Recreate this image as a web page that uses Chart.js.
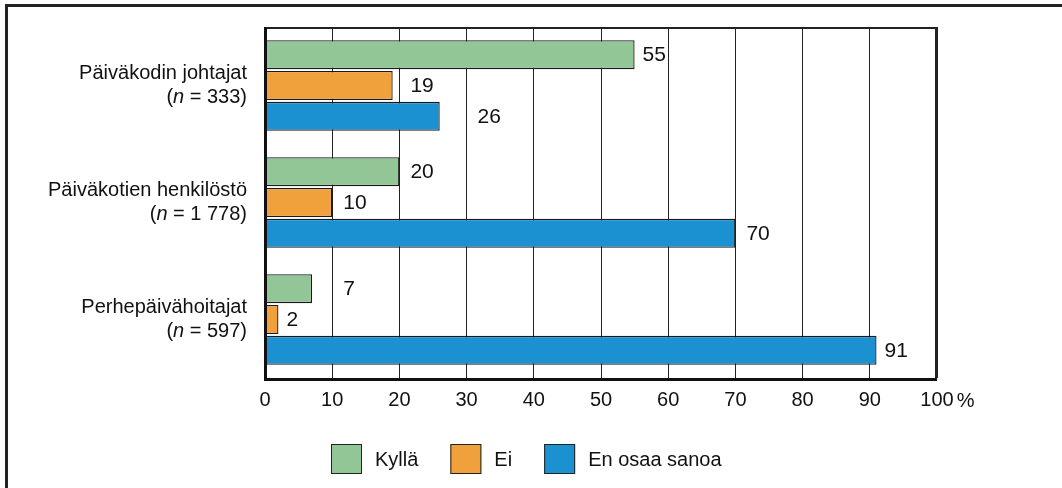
<!DOCTYPE html>
<html>
<head>
<meta charset="utf-8">
<script src="https://cdn.jsdelivr.net/npm/chart.js@4"></script>
<style>
  html, body { margin: 0; padding: 0; background: #fff; }
  #wrap { width: 1062px; height: 488px; position: relative; }
</style>
</head>
<body>
<div id="wrap"><canvas id="chart"></canvas></div>
<script>
const categories = ['Päiväkodin johtajat', 'Päiväkotien henkilöstö', 'Perhepäivähoitajat'];
const sampleSizes = ['333', '1 778', '597'];
const seriesNames = ['Kyllä', 'Ei', 'En osaa sanoa'];
const kylla = [55, 20, 7];
const ei = [19, 10, 2];
const enOsaa = [26, 70, 91];
const tickValues = [0, 10, 20, 30, 40, 50, 60, 70, 80, 90, 100];
const unitLabel = '%';

const colors = ['#93c697', '#f0a13b', '#1b91d1'];
const FONT = '"Liberation Sans", Arial, sans-serif';
const INK = '#111';

// piirretään kehykset, selitteet ja arvot itse
const extras = {
  id: 'extras',
  beforeDraw(chart) {
    const ctx = chart.ctx;
    ctx.save();
    ctx.fillStyle = '#fff';
    ctx.fillRect(0, 0, chart.width, chart.height);
    ctx.strokeStyle = '#222';
    ctx.lineWidth = 3;
    ctx.beginPath();
    ctx.moveTo(6.5, chart.height);
    ctx.lineTo(6.5, 5.5);
    ctx.lineTo(chart.width, 5.5);
    ctx.stroke();
    ctx.restore();
  },
  afterDatasetsDraw(chart) {
    const ctx = chart.ctx;
    const xs = chart.scales.x;
    const grid = tickValues.map(v => xs.getPixelForValue(v));
    ctx.save();
    ctx.font = '21px ' + FONT;
    ctx.fillStyle = INK;
    ctx.textBaseline = 'middle';
    ctx.textAlign = 'left';
    chart.data.datasets.forEach((ds, i) => {
      chart.getDatasetMeta(i).data.forEach((bar, j) => {
        const txt = String(ds.data[j]);
        const w = ctx.measureText(txt).width;
        let x = bar.x + 8;
        const hit = grid.find(g => g > x - 9 && g < x + w + 2);
        if (hit !== undefined) x = hit + 11;
        ctx.fillText(txt, x, bar.y + 1);
      });
    });
    ctx.restore();
  },
  afterDraw(chart) {
    const ctx = chart.ctx;
    const a = chart.chartArea;
    const xs = chart.scales.x;
    const ys = chart.scales.y;
    ctx.save();
    // kuvaajan reunat
    ctx.strokeStyle = '#222';
    ctx.lineWidth = 2;
    ctx.beginPath();
    ctx.moveTo(a.left, a.top + 1);
    ctx.lineTo(a.right - 1, a.top + 1);
    ctx.lineTo(a.right - 1, a.bottom);
    ctx.stroke();
    ctx.strokeStyle = '#111';
    ctx.lineWidth = 3;
    ctx.beginPath();
    ctx.moveTo(a.left + 0.5, a.top);
    ctx.lineTo(a.left + 0.5, a.bottom + 1.5);
    ctx.lineTo(a.right, a.bottom + 1.5);
    ctx.stroke();

    // luokkien nimet, n kursiivilla
    ctx.fillStyle = INK;
    ctx.textBaseline = 'middle';
    const normal = '20px ' + FONT;
    const italic = 'italic 20px ' + FONT;
    categories.forEach((name, i) => {
      const cy = ys.getPixelForValue(i);
      const right = a.left - 18;
      ctx.font = normal;
      ctx.textAlign = 'right';
      ctx.fillText(name, right, cy - 12);
      const parts = [['(', normal], ['n', italic], [' = ' + sampleSizes[i] + ')', normal]];
      let total = 0;
      parts.forEach(p => { ctx.font = p[1]; total += ctx.measureText(p[0]).width; });
      let x = right - total;
      ctx.textAlign = 'left';
      parts.forEach(p => {
        ctx.font = p[1];
        ctx.fillText(p[0], x, cy + 12);
        x += ctx.measureText(p[0]).width;
      });
    });

    // prosenttimerkki viimeisen tickin perään
    ctx.font = normal;
    ctx.textAlign = 'left';
    const last = tickValues[tickValues.length - 1];
    const lw = ctx.measureText(String(last)).width;
    ctx.fillText(unitLabel, xs.getPixelForValue(last) + lw / 2 + 3, a.bottom + 23);

    // selite
    let lx = 331;
    const ly = 444;
    chart.data.datasets.forEach(ds => {
      ctx.fillStyle = ds.backgroundColor;
      ctx.fillRect(lx, ly, 31, 30);
      ctx.strokeStyle = '#222';
      ctx.lineWidth = 1;
      ctx.strokeRect(lx + 0.5, ly + 0.5, 30, 29);
      ctx.fillStyle = INK;
      ctx.font = normal;
      ctx.fillText(ds.label, lx + 44, ly + 16);
      lx += 44 + ctx.measureText(ds.label).width + 32;
    });
    ctx.restore();
  }
};

const seriesValues = [kylla, ei, enOsaa];

new Chart(document.getElementById('chart'), {
  type: 'bar',
  data: {
    labels: categories,
    datasets: seriesValues.map((vals, i) => ({
      label: seriesNames[i],
      data: vals,
      backgroundColor: colors[i],
      borderColor: '#1a1a1a',
      borderWidth: 1.3,
      borderSkipped: false,
      categoryPercentage: 0.79,
      barPercentage: 0.94
    }))
  },
  options: {
    indexAxis: 'y',
    responsive: true,
    maintainAspectRatio: false,
    animation: false,
    layout: { padding: { left: 265, right: 125, top: 27, bottom: 66 } },
    plugins: {
      legend: { display: false },
      tooltip: { enabled: false }
    },
    scales: {
      x: {
        min: 0,
        max: 100,
        afterBuildTicks: scale => { scale.ticks = tickValues.map(v => ({ value: v })); },
        ticks: {
          color: INK,
          font: { family: FONT, size: 20 },
          padding: 10,
          maxRotation: 0,
          autoSkip: false,
          callback: v => String(v)
        },
        grid: { color: '#222', lineWidth: 1, drawTicks: false },
        border: { display: false }
      },
      y: {
        display: false
      }
    }
  },
  plugins: [extras]
});
</script>
</body>
</html>
